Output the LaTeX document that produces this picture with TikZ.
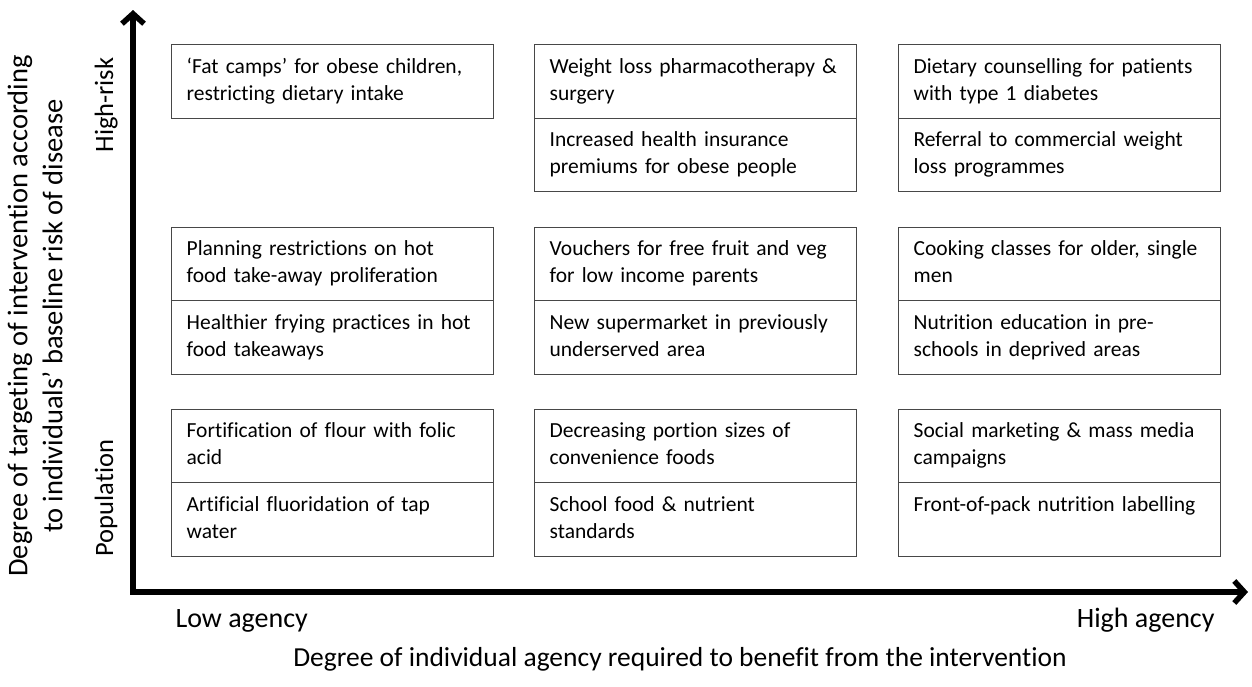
\documentclass[tikz,border=0pt]{standalone}
\usepackage{fontspec}
\setmainfont{Carlito}[Ligatures=NoCommon]
\usetikzlibrary{arrows.meta}
\begin{document}
\begin{tikzpicture}[x=1pt,y=-1pt,
  cell/.style={draw=black!72,line width=1.3pt,anchor=north west,
    minimum width=322pt,minimum height=73.5pt,text width=292pt,
    inner xsep=15pt,inner ysep=0pt,align=left,font=\fontsize{21.5}{27}\selectfont},
  ylab/.style={font=\fontsize{26.5}{32}\selectfont,rotate=90,anchor=base},
  xlab/.style={font=\fontsize{28}{34}\selectfont},
  axtitle/.style={font=\fontsize{27.5}{35}\selectfont},
  axis/.style={line width=5.5pt,{Straight Barb[length=10pt,width=22pt]}-{Straight Barb[length=10pt,width=22pt]}}]
\useasboundingbox (0,0) rectangle (1252,686);
\newcommand{\cl}[2]{\strut #1\\#2\strut}
% row 1
\node[cell] (a1) at (171,44) {\cl{‘Fat camps’ for obese children,}{restricting dietary intake}};
\node[cell] (b1) at (534,44) {\cl{Weight loss pharmacotherapy \&}{surgery}};
\node[cell] (b1b) at (534,117.5) {\cl{Increased health insurance}{premiums for obese people}};
\node[cell] (c1) at (898,44) {\cl{Dietary counselling for patients}{with type 1 diabetes}};
\node[cell] (c1b) at (898,117.5) {\cl{Referral to commercial weight}{loss programmes}};
% row 2
\node[cell] (a2) at (171,226.5) {\cl{Planning restrictions on hot}{food take-away proliferation}};
\node[cell] (a2b) at (171,300) {\cl{Healthier frying practices in hot}{food takeaways}};
\node[cell] (b2) at (534,226.5) {\cl{Vouchers for free fruit and veg}{for low income parents}};
\node[cell] (b2b) at (534,300) {\cl{New supermarket in previously}{underserved area}};
\node[cell] (c2) at (898,226.5) {\cl{Cooking classes for older, single}{men}};
\node[cell] (c2b) at (898,300) {\cl{Nutrition education in pre-}{schools in deprived areas}};
% row 3
\node[cell] (a3) at (171,408.5) {\cl{Fortification of flour with folic}{acid}};
\node[cell] (a3b) at (171,482) {\cl{Artificial fluoridation of tap}{water}};
\node[cell] (b3) at (534,408.5) {\cl{Decreasing portion sizes of}{convenience foods}};
\node[cell] (b3b) at (534,482) {\cl{School food \& nutrient}{standards}};
\node[cell] (c3) at (898,408.5) {\cl{Social marketing \& mass media}{campaigns}};
\node[cell] (c3b) at (898,482) {\cl{Front-of-pack nutrition labelling}{}};
% axes
\coordinate (ytip) at (133,10);
\coordinate (xtip) at (1248,592);
\draw[axis] (ytip) |- (xtip);
% axis labels
\node[ylab] (hr) at (113,105) {High-risk};
\node[ylab] (pop) at (113,498) {Population};
\node[xlab,anchor=base west] (lo) at (172,627) {Low agency};
\node[xlab,anchor=base east] (hi) at (1218,627) {High agency};
\node[axtitle,anchor=base] (xt) at (680,666) {Degree of individual agency required to benefit from the intervention};
\node[font=\fontsize{28.5}{35}\selectfont,rotate=90,align=center] (yt) at (35,316) {Degree of targeting of intervention according\\to individuals’ baseline risk of disease};
\end{tikzpicture}
\end{document}
